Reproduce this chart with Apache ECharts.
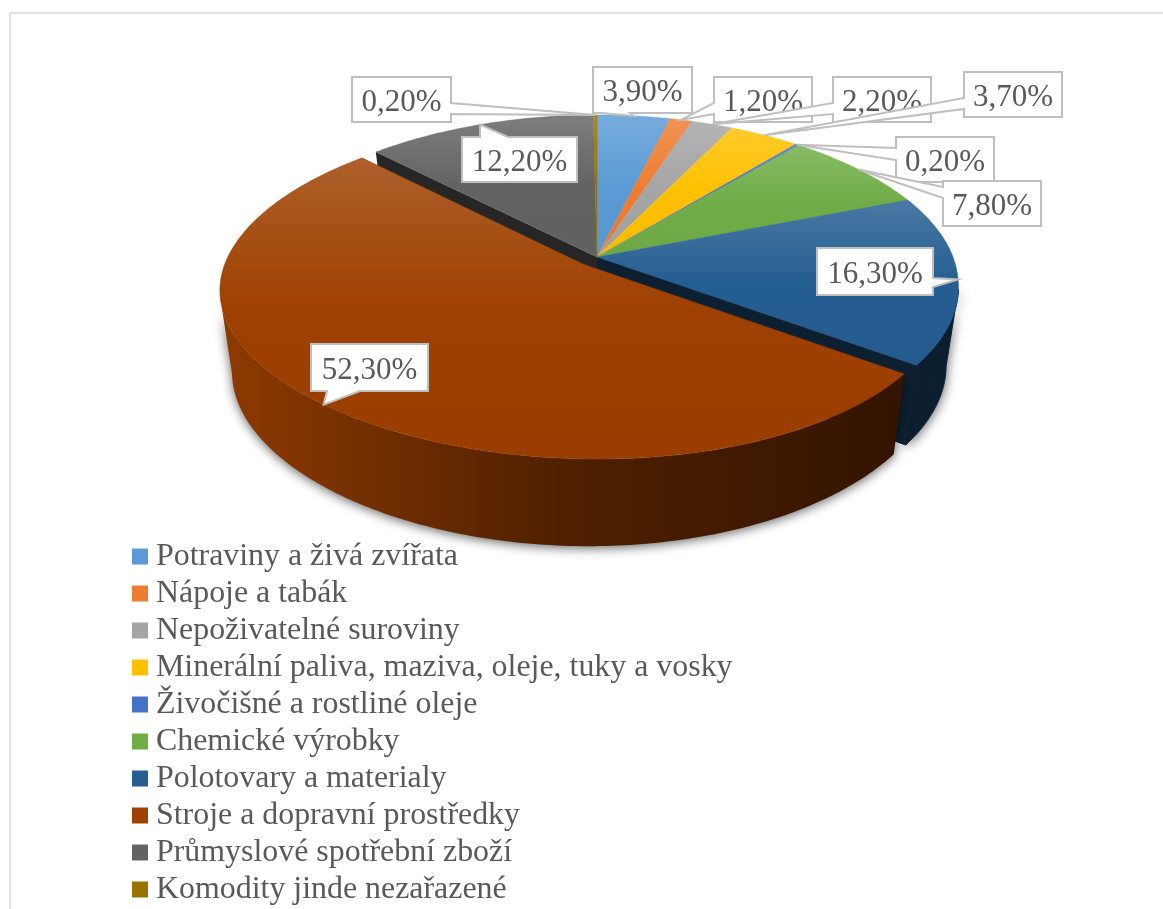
<!DOCTYPE html>
<html><head><meta charset="utf-8">
<style>html,body{margin:0;padding:0;background:#fff}#c{width:1163px;height:909px}</style>
<script src="https://cdn.jsdelivr.net/npm/echarts@6/dist/echarts.min.js"></script>
</head><body><div id="c"></div>
<script>
var categories = ['Potraviny a živá zvířata','Nápoje a tabák','Nepoživatelné suroviny','Minerální paliva, maziva, oleje, tuky a vosky','Živočišné a rostliné oleje','Chemické výrobky','Polotovary a materialy','Stroje a dopravní prostředky','Průmyslové spotřební zboží','Komodity jinde nezařazené'];
var values = [3.9,1.2,2.2,3.7,0.2,7.8,16.3,52.3,12.2,0.2];
var colors = ['#5B9BD5','#ED7D31','#A5A5A5','#FFC000','#4472C4','#70AD47','#255E91','#9E4000','#636363','#997300'];
var explodedIndex = 7;

// Callout boxes: [x, y, w, h, edge carrying the tail, tail base a, tail base b]
var callouts = [
  [593,67,99,46,'bottom',601,630],
  [714,77,98,45,'left',103,114],
  [833,77,98,45,'left',103,114],
  [964,72,98,45,'left',98,109],
  [896,137,98,45,'left',148,160],
  [943,181,98,45,'left',187,198],
  [817,248,116,47,'right',278,287],
  [311,344,117,47,'bottom',327,360],
  [462,137,115,45,'top',480,508],
  [352,77,99,45,'right',103,114]
];

var proj = {cx:597,
  top:{y0:257,r:356,s:163.3,k:0.15,kx0:0.17,kx1:0.02,shear:15},
  bottom:{y0:334,r:343,s:163,k:0.19,kx0:0.185,kx1:0.015,shear:7}};
var explode = 0.058;
var frontStart = 101*Math.PI/180, frontEnd = 259*Math.PI/180;
var total = values.reduce(function(a,b){return a+b;},0);

function plane(p,X,Y){
  var kx=p.kx0+p.kx1*Y;
  return [proj.cx+p.r*X/(1+kx*Y)+(Y<0?Y*Y*p.shear:0),p.y0-p.s*Y/(1+p.k*Y)];
}
function mix(hex,t,amt){
  var n=parseInt(hex.slice(1),16),r=n>>16,g=(n>>8)&255,b=n&255;
  function f(c){return Math.round(c+(t-c)*amt);}
  return 'rgb('+f(r)+','+f(g)+','+f(b)+')';
}
function vGrad(c){return new echarts.graphic.LinearGradient(0,0,0,1,[{offset:0,color:mix(c,255,0.17)},{offset:0.5,color:c},{offset:1,color:mix(c,0,0.03)}]);}
function hGrad(c){return new echarts.graphic.LinearGradient(0,0,1,0,[{offset:0,color:mix(c,0,0.1)},{offset:0.5,color:mix(c,0,0.5)},{offset:1,color:mix(c,0,0.68)}]);}
function arc(p,a0,a1,dx,dy){
  var n=Math.max(2,Math.ceil((a1-a0)/0.015)),pts=[];
  for(var k=0;k<=n;k++){var a=a0+(a1-a0)*k/n;pts.push(plane(p,Math.sin(a)+dx,Math.cos(a)+dy));}
  return pts;
}

function renderSlice(i,v){
  var before=values.slice(0,i).reduce(function(a,b){return a+b;},0);
  var a0=before/total*2*Math.PI, a1=(before+v)/total*2*Math.PI, mid=(a0+a1)/2;
  var isEx=i===explodedIndex;
  var dx=isEx?explode*Math.sin(mid):0, dy=isEx?explode*Math.cos(mid):0;
  var c=colors[i],kids=[];
  var base=isEx?20:0;
  var dark=mix(c,0,0.66);
  // outer wall: only the part of the rim that faces the viewer
  var f0=Math.max(a0,frontStart), f1=Math.min(a1,frontEnd);
  if(f1>f0){
    kids.push({type:'polygon',z2:base+1,shape:{points:arc(proj.top,f0,f1,dx,dy).concat(arc(proj.bottom,f0,f1,dx,dy).reverse())},
      style:{fill:isEx?hGrad(c):dark,stroke:isEx?null:dark,lineWidth:1,shadowBlur:11,shadowColor:'rgba(0,0,0,0.6)',shadowOffsetY:2}});
  }
  // radial walls revealed by the exploded slice
  var apexT=plane(proj.top,dx,dy),apexB=plane(proj.bottom,dx,dy);
  if(i===explodedIndex-1){
    var e1=[Math.sin(a1),Math.cos(a1)];
    kids.push({type:'polygon',z2:base+2,shape:{points:[apexT,plane(proj.top,e1[0],e1[1]),plane(proj.bottom,e1[0],e1[1]),apexB]},style:{fill:dark,stroke:dark,lineWidth:1}});
  }
  if(i===explodedIndex+1){
    var e0=[Math.sin(a0),Math.cos(a0)];
    kids.push({type:'polygon',z2:base+2,shape:{points:[apexT,plane(proj.top,e0[0],e0[1]),plane(proj.bottom,e0[0],e0[1]),apexB]},style:{fill:mix(c,0,0.62)}});
  }
  // top surface
  kids.push({type:'polygon',z2:base+5,shape:{points:[apexT].concat(arc(proj.top,a0,a1,dx,dy))},
    style:{fill:vGrad(c),stroke:c,lineWidth:0.4}});
  // callout
  var b=callouts[i],x=b[0],y=b[1],w=b[2],h=b[3],e=b[4],p=b[5],q=b[6];
  var tip=plane(proj.top,Math.sin(mid)+dx,Math.cos(mid)+dy);
  var pts;
  if(e==='bottom')pts=[[x,y],[x+w,y],[x+w,y+h],[q,y+h],tip,[p,y+h],[x,y+h]];
  if(e==='top')pts=[[x,y],[p,y],tip,[q,y],[x+w,y],[x+w,y+h],[x,y+h]];
  if(e==='left')pts=[[x,y],[x+w,y],[x+w,y+h],[x,y+h],[x,q],tip,[x,p]];
  if(e==='right')pts=[[x,y],[x+w,y],[x+w,p],tip,[x+w,q],[x+w,y+h],[x,y+h]];
  var zb=40+i*2;
  kids.push({type:'polygon',z2:zb,shape:{points:pts},style:{fill:'#fff',stroke:'#BFBFBF',lineWidth:2,lineJoin:'miter'}});
  kids.push({type:'text',z2:zb+1,style:{x:x+w/2,y:y+h/2+3,text:v.toFixed(2).replace('.',',')+'%',
    fill:'#595959',font:'31px "Liberation Serif"',align:'center',verticalAlign:'middle'}});
  return {type:'group',children:kids};
}

var series = categories.map(function(name,i){
  return {type:'custom',name:name,coordinateSystem:'none',animation:false,
    itemStyle:{color:colors[i]},silent:true,
    data:[[values[i]]],
    renderItem:function(params,api){return renderSlice(i,api.value(0));}};
});

var chart = echarts.init(document.getElementById('c'),null,{renderer:'canvas'});
chart.setOption({
  animation:false,
  backgroundColor:'#fff',
  legend:{data:categories,orient:'vertical',left:132,top:538,icon:'rect',itemWidth:16,itemHeight:16,itemGap:0,
    selectedMode:false,padding:0,
    textStyle:{fontFamily:'Liberation Serif',fontSize:31.9,color:'#595959',padding:[6,0,0,3],lineHeight:31}},
  graphic:[
    {type:'line',shape:{x1:10,y1:13,x2:1163,y2:13},style:{stroke:'#E2E2E2',lineWidth:2}},
    {type:'line',shape:{x1:10,y1:13,x2:10,y2:909},style:{stroke:'#E2E2E2',lineWidth:2}}
  ],
  series:series
});
</script></body></html>
